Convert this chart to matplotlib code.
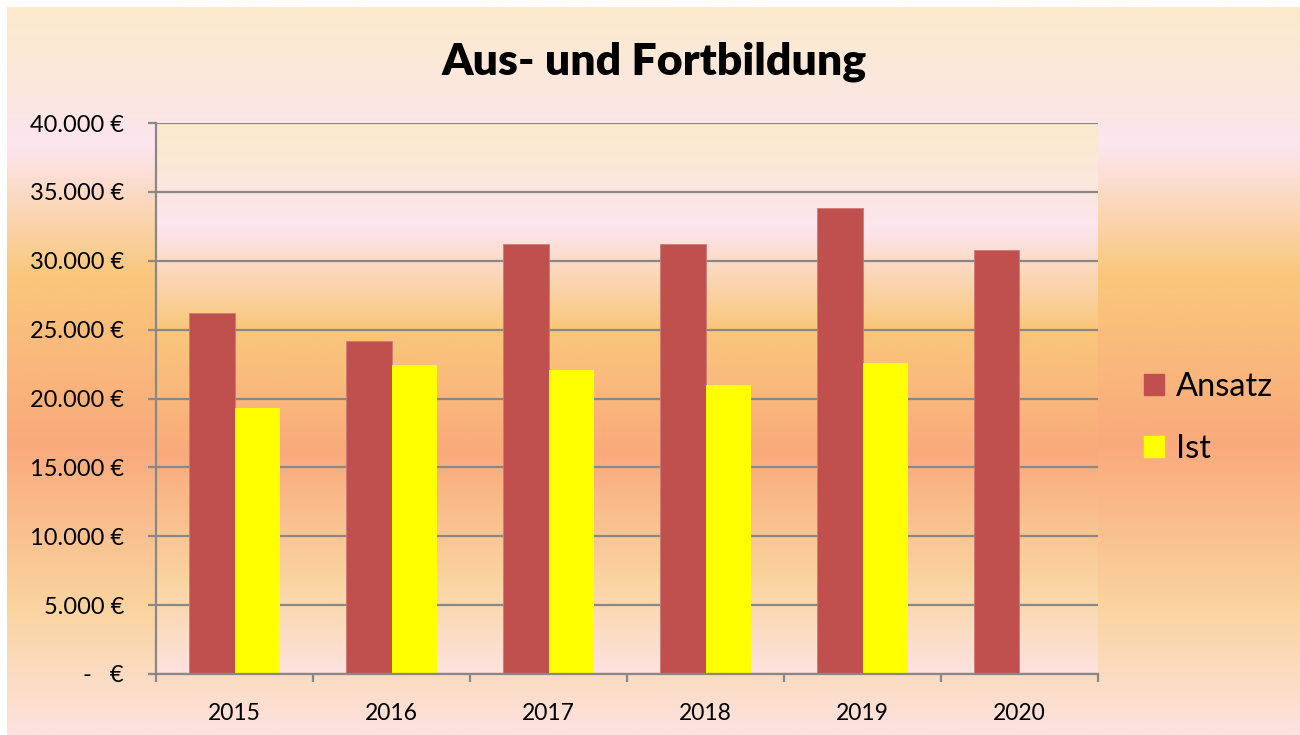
import numpy as np
import matplotlib.pyplot as plt
from matplotlib.colors import LinearSegmentedColormap
from matplotlib.patches import Patch

plt.rcParams.update({
    "font.family": ["Lato", "DejaVu Sans"],
})

# data
years = ["2015", "2016", "2017", "2018", "2019", "2020"]
ansatz = [26200, 24200, 31200, 31200, 33800, 30800]
ist = [19300, 22400, 22100, 21000, 22600, np.nan]
y_ticks = [0, 5000, 10000, 15000, 20000, 25000, 30000, 35000, 40000]

RED = "#C0504D"
YELLOW = "#FFFF00"
GRID = "#888888"

# office-like vertical gradient: cream -> pink -> orange -> salmon -> peach -> pink
grad = LinearSegmentedColormap.from_list("office", [
    (0.00, "#FBEACB"),
    (0.19, "#FDE5EE"),
    (0.37, "#F9C77B"),
    (0.60, "#F9AA7C"),
    (0.83, "#FAD4A0"),
    (1.00, "#FDE2E0"),
])


def euro(v):
    if v == 0:
        return "-   €"
    return f"{v:,.0f} €".replace(",", ".")


fig = plt.figure(figsize=(13, 7.35), dpi=100)
fig.patch.set_facecolor("white")

# outer chart background
bg = fig.add_axes([7 / 1300, 0, 1293 / 1300, 728 / 735], zorder=-10)
bg.imshow(np.linspace(0, 1, 256).reshape(-1, 1), cmap=grad, aspect="auto",
          extent=(0, 1, 0, 1), origin="upper")
bg.set_axis_off()

# plot area
L, R, T, B = 156, 1098, 123, 674
ax = fig.add_axes([L / 1300, (735 - B) / 735, (R - L) / 1300, (B - T) / 735])
ax.set_facecolor("none")

x = np.arange(len(years))
w = 0.287
ax.set_xlim(-0.5, len(years) - 0.5)
ax.set_ylim(0, 40000)
ax.imshow(np.linspace(0, 1, 256).reshape(-1, 1), cmap=grad, aspect="auto",
          extent=(-0.5, len(years) - 0.5, 0, 40000), origin="upper", zorder=0)

ax.bar(x - w / 2, ansatz, w, color=RED, edgecolor="#D07A77", linewidth=0.6,
       zorder=3, label="Ansatz")
ax.bar(x + w / 2, ist, w, color=YELLOW, edgecolor="none", zorder=3, label="Ist")

ax.set_yticks(y_ticks)
ax.set_yticklabels([euro(v) for v in y_ticks])
ax.yaxis.grid(True, color=GRID, linewidth=1.6, zorder=1)
ax.set_axisbelow(False)
for gl in ax.get_ygridlines():
    gl.set_zorder(1)

# category boundary ticks, labels at centres
ax.set_xticks(np.arange(-0.5, len(years)), labels=[""] * (len(years) + 1))
ax.set_xticks(x, labels=years, minor=True)
ax.tick_params(axis="x", which="major", length=6, width=1.6, color=GRID,
               direction="out")
ax.tick_params(axis="x", which="minor", length=0, pad=21, labelsize=16.5)
ax.tick_params(axis="y", length=6, width=1.6, color=GRID, direction="out",
               pad=17, labelsize=17)

for s in ["top", "right"]:
    ax.spines[s].set_visible(False)
for s in ["left", "bottom"]:
    ax.spines[s].set_color(GRID)
    ax.spines[s].set_linewidth(1.6)
    ax.spines[s].set_zorder(4)

fig.text(654 / 1300, 1 - 62 / 735, "Aus- und Fortbildung", ha="center",
         va="center", fontsize=32, fontweight="heavy")

handles = [Patch(color=RED, label="Ansatz"), Patch(color=YELLOW, label="Ist")]
fig.legend(handles=handles, loc="center left",
           bbox_to_anchor=(1131 / 1300, 1 - 418 / 735), frameon=False,
           fontsize=23.5, handlelength=0.62, handleheight=0.62,
           handletextpad=0.35, labelspacing=1.0, borderaxespad=0)

fig.savefig("out.png", dpi=100)
